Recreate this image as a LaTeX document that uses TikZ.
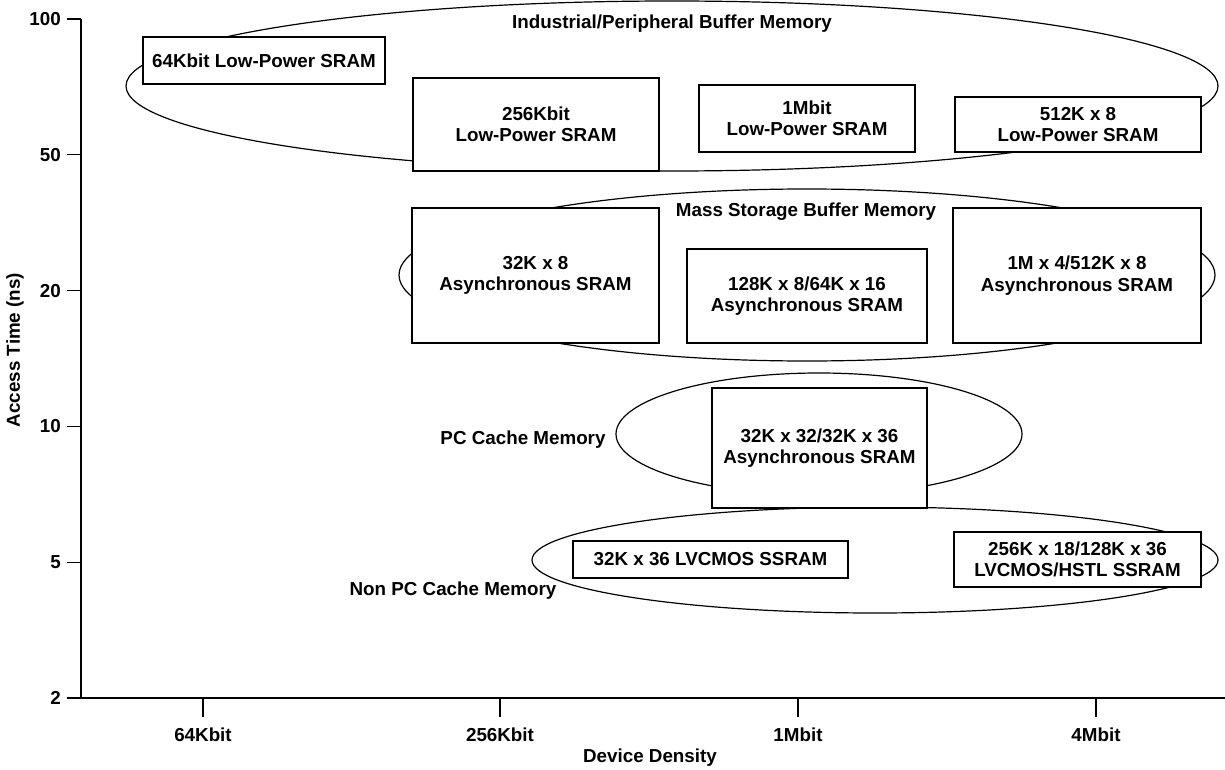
\documentclass[tikz,border=0pt]{standalone}
\usepackage{fontspec}
\setmainfont{Liberation Sans}
\usetikzlibrary{shapes.geometric}
\newcommand{\chartfont}{\fontsize{18.8}{21.5}\selectfont\bfseries}
\begin{document}
\begin{tikzpicture}[x=1pt,y=-1pt,
  chip/.style={draw, fill=white, line width=1.4pt, rectangle, align=center,
    inner sep=0pt, font=\chartfont},
  family/.style={draw, ellipse, line width=1.2pt, inner sep=0pt},
  caption/.style={font=\chartfont, inner sep=0pt},
  axisline/.style={line width=1.5pt},
  tickline/.style={line width=1.3pt}]
\useasboundingbox (0,0) rectangle (1225,770);

% memory families
\node[family, minimum width=1092pt, minimum height=170pt] (ind) at (672,86) {};
\node[family, minimum width=816pt, minimum height=172pt] (mass) at (807,275) {};
\node[family, minimum width=406pt, minimum height=122pt] (pc) at (819,434) {};
\node[family, minimum width=686pt, minimum height=106pt] (nonpc) at (875,560) {};

\node[caption] (indlbl) at (672,24) {Industrial/Peripheral Buffer Memory};
\node[caption] (masslbl) at (806,212) {Mass Storage Buffer Memory};
\node[caption] (pclbl) at (523,440) {PC Cache Memory};
\node[caption] (nonpclbl) at (453,591) {Non PC Cache Memory};

% devices
\node[chip, minimum width=242pt, minimum height=47pt] (lp64) at (264,60.5) {64Kbit Low-Power SRAM};
\node[chip, minimum width=246pt, minimum height=93pt] (lp256) at (536,124.5) {256Kbit\\Low-Power SRAM};
\node[chip, minimum width=216pt, minimum height=67pt] (lp1m) at (807,118.5) {1Mbit\\Low-Power SRAM};
\node[chip, minimum width=246pt, minimum height=55pt] (lp4m) at (1078,124.5) {512K x 8\\Low-Power SRAM};
\node[chip, minimum width=247pt, minimum height=135pt] (as256) at (535.5,275.5) {32K x 8\\Asynchronous SRAM};
\node[chip, minimum width=240pt, minimum height=94pt] (as1m) at (807,296) {128K x 8/64K x 16\\Asynchronous SRAM};
\node[chip, minimum width=248pt, minimum height=135pt] (as4m) at (1077,275.5) {1M x 4/512K x 8\\Asynchronous SRAM};
\node[chip, minimum width=215pt, minimum height=120pt] (pcas) at (819.5,448) {32K x 32/32K x 36\\Asynchronous SRAM};
\node[chip, minimum width=275pt, minimum height=37pt] (ss1m) at (710.5,559.5) {32K x 36 LVCMOS SSRAM};
\node[chip, minimum width=247pt, minimum height=55pt] (ss4m) at (1077.5,559.5) {256K x 18/128K x 36\\LVCMOS/HSTL SSRAM};

% axes
\coordinate (ytop) at (81,19);
\coordinate (origin) at (81,698);
\coordinate (xend) at (1225,698);
\draw[axisline] (ytop) -- (origin) -- (xend);

\foreach \v [count=\k from 0] in {100,50,20,10,5,2} {
  \coordinate (yt\k) at (81,19+135.8*\k);
  \coordinate (ytl\k) at (67,19+135.8*\k);
  \draw[tickline] (yt\k) -- (ytl\k);
  \node[caption, anchor=east] (yl\k) at (61,19+135.8*\k) {\v};
}
\foreach \x/\v [count=\k] in {203/64Kbit,500/256Kbit,798/1Mbit,1096/4Mbit} {
  \coordinate (xt\k) at (\x,698);
  \coordinate (xtl\k) at (\x,717);
  \draw[tickline] (xt\k) -- (xtl\k);
  \node[caption] (xl\k) at (\x,735) {\v};
}

\node[caption] (xtitle) at (650,758) {Device Density};
\node[caption, rotate=90] (ytitle) at (15,350) {Access Time (ns)};
\end{tikzpicture}
\end{document}
